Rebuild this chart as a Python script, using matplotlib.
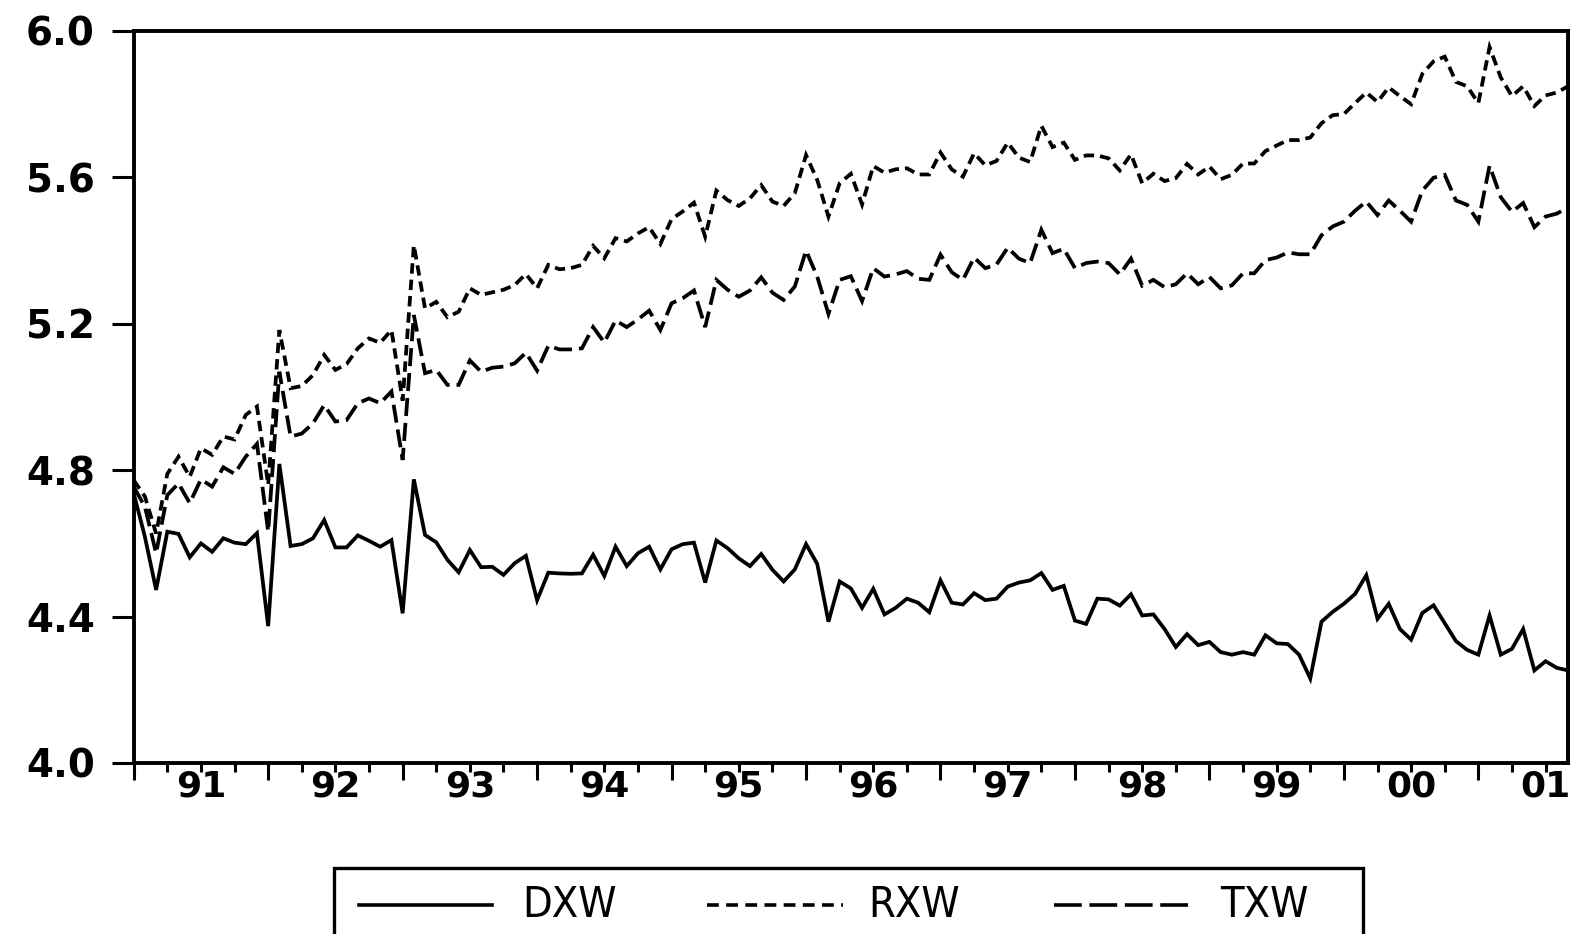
import numpy as np
import matplotlib
matplotlib.use("Agg")
import matplotlib.pyplot as plt
from matplotlib.lines import Line2D
from matplotlib.patches import Rectangle

plt.rcParams['lines.scale_dashes'] = False

# Monthly data, 1991M01 - 2001M09
year_labels = ['91', '92', '93', '94', '95', '96', '97', '98', '99', '00', '01']
y_ticks = [4.0, 4.4, 4.8, 5.2, 5.6, 6.0]

DXW = [4.737, 4.618, 4.473, 4.632, 4.626, 4.562, 4.600, 4.577, 4.614, 4.602, 4.598, 4.628,
       4.374, 4.817, 4.593, 4.598, 4.614, 4.664, 4.589, 4.589, 4.622, 4.607, 4.591, 4.609,
       4.409, 4.775, 4.623, 4.603, 4.555, 4.521, 4.582, 4.535, 4.536, 4.514, 4.546, 4.566,
       4.445, 4.520, 4.518, 4.517, 4.518, 4.569, 4.511, 4.591, 4.538, 4.573, 4.591, 4.529,
       4.584, 4.598, 4.602, 4.493, 4.608, 4.587, 4.559, 4.538, 4.571, 4.528, 4.496, 4.529,
       4.598, 4.544, 4.386, 4.496, 4.477, 4.424, 4.476, 4.406, 4.424, 4.449, 4.438, 4.412,
       4.499, 4.438, 4.433, 4.464, 4.445, 4.449, 4.482, 4.493, 4.499, 4.519, 4.473, 4.484,
       4.389, 4.380, 4.449, 4.447, 4.430, 4.461, 4.403, 4.406, 4.366, 4.317, 4.352, 4.322,
       4.331, 4.303, 4.296, 4.303, 4.296, 4.349, 4.327, 4.325, 4.296, 4.231, 4.386, 4.413,
       4.435, 4.462, 4.513, 4.394, 4.435, 4.366, 4.337, 4.410, 4.431, 4.382, 4.333, 4.309,
       4.296, 4.403, 4.296, 4.312, 4.366, 4.253, 4.278, 4.260, 4.253]

RXW = [4.773, 4.728, 4.627, 4.790, 4.837, 4.782, 4.860, 4.842, 4.892, 4.884, 4.951, 4.974,
       4.760, 5.183, 5.024, 5.030, 5.060, 5.115, 5.074, 5.090, 5.133, 5.160, 5.148, 5.183,
       4.990, 5.415, 5.242, 5.260, 5.218, 5.233, 5.297, 5.279, 5.286, 5.293, 5.306, 5.336,
       5.297, 5.361, 5.349, 5.352, 5.361, 5.413, 5.379, 5.434, 5.425, 5.447, 5.464, 5.418,
       5.486, 5.507, 5.531, 5.438, 5.564, 5.538, 5.522, 5.543, 5.579, 5.534, 5.522, 5.557,
       5.661, 5.593, 5.493, 5.584, 5.610, 5.526, 5.631, 5.613, 5.622, 5.625, 5.608, 5.608,
       5.668, 5.622, 5.602, 5.666, 5.633, 5.645, 5.695, 5.654, 5.642, 5.741, 5.683, 5.695,
       5.648, 5.660, 5.660, 5.652, 5.619, 5.663, 5.584, 5.610, 5.590, 5.598, 5.637, 5.608,
       5.630, 5.595, 5.607, 5.638, 5.638, 5.672, 5.687, 5.702, 5.702, 5.709, 5.748, 5.770,
       5.773, 5.803, 5.832, 5.806, 5.846, 5.822, 5.800, 5.883, 5.917, 5.930, 5.861, 5.849,
       5.803, 5.956, 5.873, 5.822, 5.849, 5.795, 5.824, 5.832, 5.849]

TXW = [4.755, 4.700, 4.573, 4.732, 4.764, 4.710, 4.775, 4.755, 4.808, 4.790, 4.837, 4.872,
       4.632, 5.069, 4.892, 4.900, 4.928, 4.978, 4.933, 4.937, 4.983, 4.996, 4.983, 5.015,
       4.828, 5.224, 5.065, 5.074, 5.033, 5.033, 5.100, 5.069, 5.080, 5.083, 5.092, 5.121,
       5.072, 5.140, 5.130, 5.130, 5.133, 5.191, 5.149, 5.209, 5.191, 5.212, 5.236, 5.183,
       5.256, 5.270, 5.291, 5.191, 5.320, 5.293, 5.274, 5.291, 5.327, 5.285, 5.265, 5.302,
       5.400, 5.329, 5.227, 5.320, 5.330, 5.262, 5.352, 5.329, 5.335, 5.344, 5.323, 5.320,
       5.389, 5.341, 5.320, 5.381, 5.352, 5.362, 5.408, 5.378, 5.366, 5.457, 5.393, 5.405,
       5.352, 5.366, 5.370, 5.366, 5.335, 5.378, 5.304, 5.320, 5.300, 5.308, 5.338, 5.308,
       5.328, 5.297, 5.305, 5.338, 5.338, 5.374, 5.381, 5.395, 5.390, 5.390, 5.442, 5.466,
       5.479, 5.509, 5.534, 5.497, 5.537, 5.509, 5.479, 5.564, 5.599, 5.607, 5.537, 5.525,
       5.479, 5.632, 5.546, 5.506, 5.530, 5.464, 5.493, 5.501, 5.518]

series_names = ['DXW', 'RXW', 'TXW']

W, H = 1574, 934
fig = plt.figure(figsize=(W / 100, H / 100), dpi=100)
ax = fig.add_axes([133.7 / W, 1 - 763 / H, (1568 - 133.7) / W, (763 - 31) / H])

x = np.arange(len(DXW))
lw = 2.7
ax.plot(x, DXW, color='black', lw=lw, solid_joinstyle='miter')
ax.plot(x, RXW, color='black', lw=lw, linestyle=(0, (7.5, 4.3)), dash_joinstyle='miter', dash_capstyle='butt')
ax.plot(x, TXW, color='black', lw=lw, linestyle=(0, (13, 5)), dash_joinstyle='miter', dash_capstyle='butt')

n = len(DXW)
ax.set_xlim(0, n - 1)
ax.set_ylim(y_ticks[0], y_ticks[-1])

year_starts = list(range(0, n, 12))
quarters = [q for q in range(0, n, 3) if q % 12 != 0]
ax.set_xticks(year_starts)
ax.set_xticks(quarters, minor=True)
ax.tick_params(axis='x', which='major', length=12, width=2.2, direction='out', labelbottom=False)
ax.tick_params(axis='x', which='minor', length=6.5, width=2.2, direction='out', labelbottom=False)
ax.set_yticks(y_ticks)
ax.set_yticklabels(['%.1f' % v for v in y_ticks])
ax.tick_params(axis='y', which='major', length=16, width=2.2, direction='out', pad=12,
               labelsize=28)
for lab in ax.get_yticklabels():
    lab.set_fontweight('bold')
ax.tick_params(axis='y', which='minor', left=False)

for sp in ax.spines.values():
    sp.set_linewidth(2.8)

for k, lab in enumerate(year_labels):
    ax.annotate(lab, xy=(year_starts[k] + 6, 0), xycoords=('data', 'axes fraction'),
                xytext=(0, -5), textcoords='offset points', ha='center', va='top',
                fontsize=26, fontweight='bold')

# Legend box (bottom cut off by the figure edge as in the reference)
box = Rectangle((334 / W, -0.1), (1363 - 334) / W, 0.1 + (1 - 868 / H),
                transform=fig.transFigure, fill=False, lw=2.4, edgecolor='black')
fig.add_artist(box)
ly = 1 - 905 / H
samples = [((359, 492), '-'), ((707, 843), (0, (8.5, 5.3))), ((1054, 1190), (0, (20, 5.5)))]
text_x = [522, 868, 1220]
for (xs, ls), tx, name in zip(samples, text_x, series_names):
    ln = Line2D([xs[0] / W, xs[1] / W], [ly, ly], transform=fig.transFigure, color='black',
                lw=2.6, linestyle=ls, dash_capstyle='butt')
    fig.add_artist(ln)
    fig.text(tx / W, ly, name, ha='left', va='center', fontsize=31,
             family=['DejaVu Sans'], stretch='condensed')

fig.savefig('out.png', dpi=100)
